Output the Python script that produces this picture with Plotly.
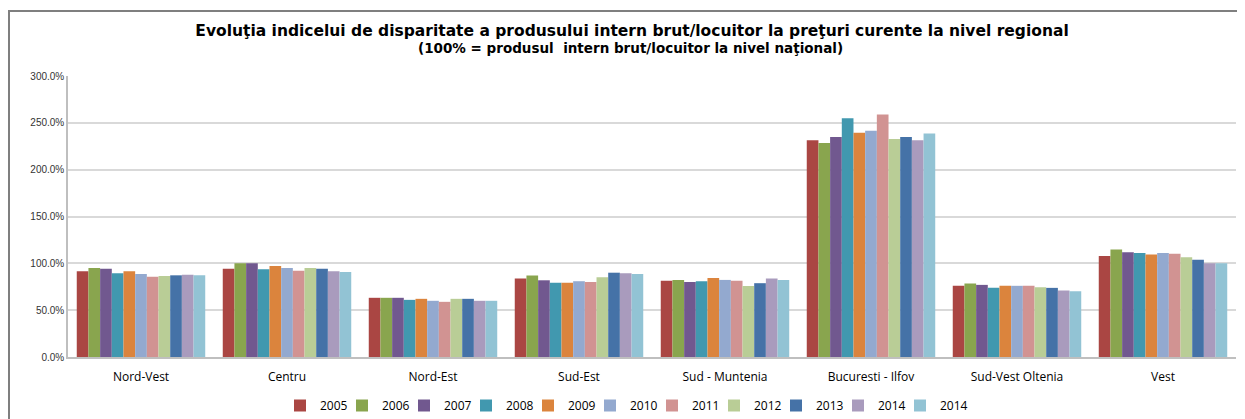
import plotly.graph_objects as go

regions = ["Nord-Vest", "Centru", "Nord-Est", "Sud-Est", "Sud - Muntenia",
           "Bucuresti - Ilfov", "Sud-Vest Oltenia", "Vest"]
years = ["2005", "2006", "2007", "2008", "2009", "2010", "2011", "2012", "2013", "2014", "2014"]

v2005 = [91.5, 94.3, 63.2, 83.7, 81.5, 231.4, 76.0, 107.8]
v2006 = [95.0, 100.0, 63.2, 86.9, 82.3, 228.4, 78.4, 114.7]
v2007 = [94.3, 100.0, 63.2, 81.9, 80.1, 235.0, 77.0, 111.7]
v2008 = [89.4, 93.6, 61.0, 79.4, 80.9, 254.9, 73.8, 111.0]
v2009 = [91.5, 97.1, 62.1, 79.4, 84.4, 239.3, 76.0, 109.5]
v2010 = [88.6, 95.0, 60.0, 80.9, 82.3, 241.5, 76.0, 111.0]
v2011 = [85.8, 92.1, 58.9, 80.1, 81.5, 258.9, 76.0, 110.2]
v2012 = [86.5, 95.0, 62.1, 85.1, 75.9, 232.8, 74.5, 106.4]
v2013 = [87.2, 94.3, 62.1, 90.0, 78.8, 235.0, 73.8, 103.8]
v2014a = [87.9, 91.5, 60.0, 89.4, 83.7, 231.4, 71.0, 100.0]
v2014b = [87.2, 90.8, 60.0, 88.6, 82.3, 238.5, 70.3, 100.0]

series = [v2005, v2006, v2007, v2008, v2009, v2010, v2011, v2012, v2013, v2014a, v2014b]
colors = ["#AA4643", "#89A54E", "#71588F", "#4198AF", "#DB843D", "#93A9CF",
          "#D19392", "#B9CD96", "#4572A7", "#A99BBD", "#92C3D4"]

title_text = "Evoluţia indicelui de disparitate a produsului intern brut/locuitor la preţuri curente la nivel regional"
subtitle_text = "(100% = produsul  intern brut/locuitor la nivel naţional)"

fig = go.Figure()
for name, vals, col in zip(years, series, colors):
    fig.add_trace(go.Bar(x=regions, y=vals, name=name, marker_color=col,
                         marker_line_width=0))
# invisible legend spacer so the last legend label is not clipped
fig.add_trace(go.Scatter(x=[regions[0]], y=[0], name=" ", mode="markers",
                         marker=dict(opacity=0, color="white"), hoverinfo="skip"))

# the page places the figure 8px from the top-left corner
O = 8
W, H = 1245 - O, 419 - O
L, R, T, B = 68 - O, 9, 76 - O, 61.5
pw, ph = W - L - R, H - T - B


def px_x(sx):
    return (sx - O - L) / pw


def px_y(sy):
    return 1 - (sy - O - T) / ph


fig.update_layout(
    width=W, height=H,
    margin=dict(l=L, r=R, t=T, b=B, autoexpand=False),
    paper_bgcolor="white", plot_bgcolor="white",
    barmode="group", bargap=0.12, bargroupgap=0,
    font=dict(family="Open Sans, Liberation Sans, sans-serif", color="#000"),
    title=dict(
        text="<b>" + title_text + "</b>",
        x=px_x(632), xanchor="center", xref="paper",
        y=1 - (31 - O) / H, yanchor="middle",
        font=dict(size=15.5, family="DejaVu Sans, sans-serif", color="#000"),
    ),
    annotations=[dict(text="<b>" + subtitle_text + "</b>", xref="paper", yref="paper",
                      x=px_x(630), y=px_y(48), xanchor="center", yanchor="middle",
                      showarrow=False,
                      font=dict(size=13.5, family="DejaVu Sans, sans-serif", color="#000"))],
    xaxis=dict(showgrid=False, showline=True, linecolor="#BFBFBF", linewidth=1.5,
               ticks="", tickfont=dict(size=12, color="#000",
                                       family="Open Sans, sans-serif"),
               ticklabelstandoff=8),
    yaxis=dict(range=[0, 300], dtick=50, tickformat=".1f", ticksuffix="%",
               showgrid=True, gridcolor="#D9D9D9", gridwidth=1.5,
               showline=True, linecolor="#BFBFBF", linewidth=1.5,
               zeroline=False, ticks="", tickfont=dict(size=10, color="#333",
                                                       family="Liberation Sans, sans-serif")),
    legend=dict(orientation="h", x=px_x(652), xanchor="center",
                yref="container", y=1 - (391 - O) / H, yanchor="top",
                font=dict(size=12, family="Open Sans, sans-serif", color="#000"),
                itemwidth=30, entrywidth=17, entrywidthmode="pixels",
                traceorder="normal", tracegroupgap=0),
    shapes=[dict(type="rect", xref="paper", yref="paper",
                 x0=px_x(9), x1=px_x(1255),
                 y0=px_y(440), y1=px_y(11),
                 line=dict(color="#7F7F7F", width=2), fillcolor="rgba(0,0,0,0)",
                 layer="below")],
)

fig.write_html("out.html")
